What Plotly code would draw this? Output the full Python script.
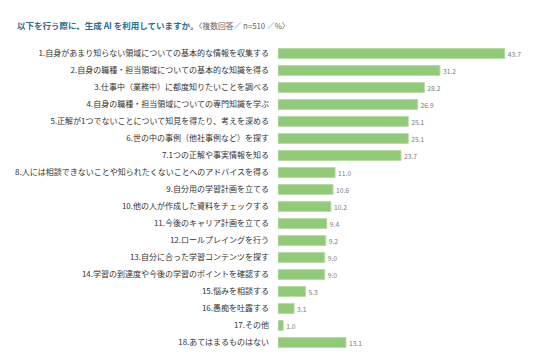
import plotly.graph_objects as go

categories = [
    "1.自身があまり知らない領域についての基本的な情報を収集する",
    "2.自身の職種・担当領域についての基本的な知識を得る",
    "3.仕事中（業務中）に都度知りたいことを調べる",
    "4.自身の職種・担当領域についての専門知識を学ぶ",
    "5.正解が1つでないことについて知見を得たり、考えを深める",
    "6.世の中の事例（他社事例など）を探す",
    "7.1つの正解や事実情報を知る",
    "8.人には相談できないことや知られたくないことへのアドバイスを得る",
    "9.自分用の学習計画を立てる",
    "10.他の人が作成した資料をチェックする",
    "11.今後のキャリア計画を立てる",
    "12.ロールプレイングを行う",
    "13.自分に合った学習コンテンツを探す",
    "14.学習の到達度や今後の学習のポイントを確認する",
    "15.悩みを相談する",
    "16.愚痴を吐露する",
    "17.その他",
    "18.あてはまるものはない",
]
values = [43.7, 31.2, 28.2, 26.9, 25.1, 25.1, 23.7, 11.0, 10.6, 10.2, 9.4, 9.2, 9.0, 9.0, 5.3, 3.1, 1.0, 13.1]
value_labels = [f"{v:.1f}" for v in values]

title_main = "以下を行う際に、生成 AI を利用していますか。"
title_sub = "〈複数回答／ n=510 ／%〉"

FONT = "Noto Sans CJK JP"

L, R, T, B = 278, 20, 45, 12
W, H = 536, 363
pw = W - L - R
ph = H - T - B

fig = go.Figure(
    go.Bar(
        x=values,
        y=categories,
        orientation="h",
        marker=dict(color="#92c97a", line=dict(color="#b5dba3", width=1)),
        text=value_labels,
        textposition="outside",
        textfont=dict(family=FONT, size=7.5, color="#7a7a7a"),
        cliponaxis=False,
        hoverinfo="skip",
    )
)

fig.update_layout(
    width=W,
    height=H,
    margin=dict(l=L, r=R, t=T, b=B, autoexpand=False),
    paper_bgcolor="white",
    plot_bgcolor="white",
    bargap=0.42,
    showlegend=False,
    font=dict(family=FONT, color="#333333"),
    xaxis=dict(range=[0, pw / 5.19], visible=False, fixedrange=True, automargin=False),
    yaxis=dict(
        autorange="reversed",
        showgrid=False,
        showline=False,
        zeroline=False,
        ticks="",
        tickfont=dict(family=FONT, size=8, color="#333333"),
        ticklabelstandoff=8,
        fixedrange=True,
        automargin=False,
    ),
    annotations=[
        dict(
            text=f"<b>{title_main}</b><span style='font-size:7.8px;color:#666666'>{title_sub}</span>",
            x=(15 - L) / pw,
            y=(H - B - 25) / ph,
            xref="paper",
            yref="paper",
            xanchor="left",
            yanchor="middle",
            showarrow=False,
            font=dict(family=FONT, size=8.5, color="#2e6b8f"),
        )
    ],
)

fig.write_html(
    "out.html",
    config={"displayModeBar": False},
    post_script="document.body.style.margin='0';document.body.style.overflow='hidden';",
)
